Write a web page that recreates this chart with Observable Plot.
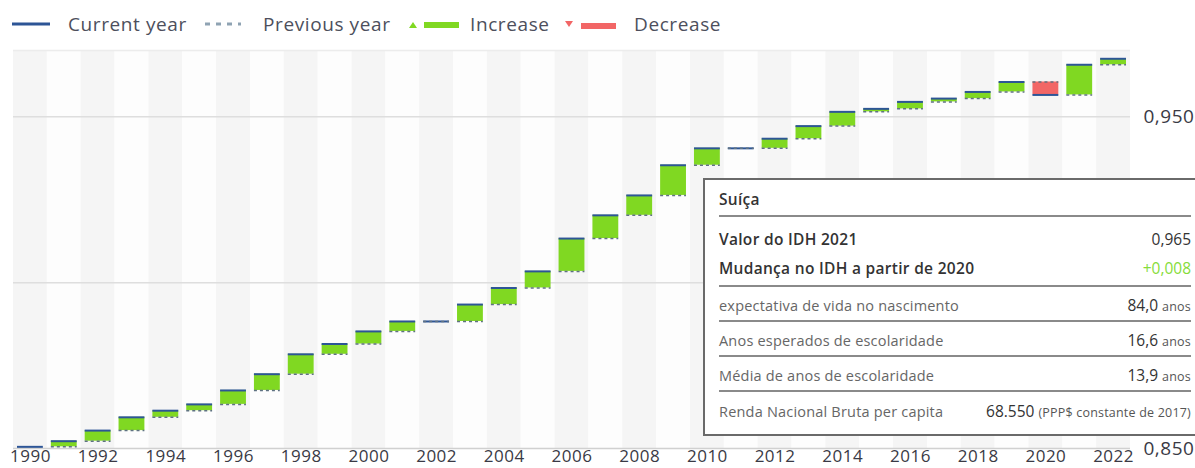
<!DOCTYPE html>
<html>
<head>
<meta charset="utf-8">
<script src="https://cdn.jsdelivr.net/npm/d3@7"></script>
<script src="https://cdn.jsdelivr.net/npm/@observablehq/plot@0.6"></script>
<style>
  html, body { margin: 0; padding: 0; background: #fff; overflow: hidden; width: 1195px; height: 468px; }
  body { font-family: "Open Sans", Lato, sans-serif; position: relative; }
  #legend { position: absolute; left: 0; top: 0; width: 1195px; height: 40px; }
  .lg { position: absolute; top: 11px; font-size: 19px; letter-spacing: 0.6px; color: #4d4f5c; line-height: 26px; white-space: nowrap; }
  #chart { position: absolute; left: 0; top: 40px; }
  #chart svg text { letter-spacing: 0.5px; }
  #tip { position: absolute; left: 703px; top: 178px; width: 500px; height: 254px; border: 2px solid #6a6a6a; background: #fff; box-sizing: content-box; }
  .row { position: absolute; left: 14px; width: 472px; display: flex; justify-content: space-between; align-items: center; height: 24px; white-space: nowrap; }
  .b { font-weight: 600; font-size: 15.5px; letter-spacing: 0.3px; color: #333; }
  .n { font-size: 14.5px; letter-spacing: 0.2px; color: #666; }
  .v { font-size: 15.5px; color: #333; }
  .s { font-size: 12.5px; color: #555; letter-spacing: 0.2px; }
  .hr { position: absolute; left: 14px; width: 472px; height: 0; border-top: 2px solid #8a8a8a; }
</style>
</head>
<body>
<div id="legend">
  <svg style="position:absolute;left:0;top:0" width="700" height="40">
    <line x1="12" x2="50" y1="24" y2="24" stroke="#2d5596" stroke-width="3"/>
    <line x1="205" x2="241" y1="24" y2="24" stroke="#8fa3b3" stroke-width="3" stroke-dasharray="5,6"/>
    <path d="M409,28 L413,22 L417,28 Z" fill="#80d822"/>
    <line x1="424" x2="459" y1="25" y2="25" stroke="#80d822" stroke-width="6"/>
    <path d="M565,21 L569,27 L573,21 Z" fill="#f26666"/>
    <line x1="581" x2="616" y1="26" y2="26" stroke="#f26666" stroke-width="6"/>
  </svg>
  <span class="lg" style="left:68px">Current year</span>
  <span class="lg" style="left:263px">Previous year</span>
  <span class="lg" style="left:470px">Increase</span>
  <span class="lg" style="left:634px">Decrease</span>
</div>
<div id="chart"></div>
<div id="tip">
  <div class="row b" style="top:7px">Suíça</div>
  <div class="hr" style="top:35px"></div>
  <div class="row" style="top:47px"><span class="b">Valor do IDH 2021</span><span class="v">0,965</span></div>
  <div class="row" style="top:76px"><span class="b">Mudança no IDH a partir de 2020</span><span class="v" style="color:#86dc3a">+0,008</span></div>
  <div class="hr" style="top:105px"></div>
  <div class="row" style="top:113px"><span class="n">expectativa de vida no nascimento</span><span class="v">84,0 <span class="s">anos</span></span></div>
  <div class="hr" style="top:140px"></div>
  <div class="row" style="top:148px"><span class="n">Anos esperados de escolaridade</span><span class="v">16,6 <span class="s">anos</span></span></div>
  <div class="hr" style="top:175px"></div>
  <div class="row" style="top:183px"><span class="n">Média de anos de escolaridade</span><span class="v">13,9 <span class="s">anos</span></span></div>
  <div class="hr" style="top:210px"></div>
  <div class="row" style="top:219px"><span class="n">Renda Nacional Bruta per capita</span><span class="v">68.550 <span class="s">(PPP$ constante de 2017)</span></span></div>
</div>
<script>
const years = [1990,1991,1992,1993,1994,1995,1996,1997,1998,1999,2000,2001,2002,2003,2004,2005,2006,2007,2008,2009,2010,2011,2012,2013,2014,2015,2016,2017,2018,2019,2020,2021,2022];
const hdi = [0.8505,0.8522,0.8554,0.8594,0.8614,0.8633,0.8675,0.8724,0.8784,0.8815,0.8853,0.8883,0.8883,0.8934,0.8984,0.9034,0.9133,0.9203,0.9263,0.9354,0.9405,0.9405,0.9434,0.9472,0.9515,0.9524,0.9545,0.9555,0.9575,0.9605,0.9566,0.9657,0.9675];
const gridValues = [0.90, 0.95];
const yTickLabels = [0.85, 0.95];
const xTickYears = years.filter(y => y % 2 === 0);

const GREEN = "#80d822", RED = "#f26666", BLUE = "#2d5596", DASH = "#5f7282";
const yMin = 0.85, yMax = 0.97;

const rows = years.map((year, i) => ({year, cur: hdi[i], prev: i > 0 ? hdi[i - 1] : null, idx: i}));
const changes = rows.filter(d => d.prev !== null && d.cur !== d.prev);
const withPrev = rows.filter(d => d.prev !== null);

const chart = Plot.plot({
  width: 1195,
  height: 428,
  marginTop: 10,
  marginBottom: 20,
  marginLeft: 13,
  marginRight: 65,
  style: {fontFamily: "'Open Sans', Lato, sans-serif", fontSize: "19px", color: "#3a3a45", background: "transparent", overflow: "visible"},
  x: {type: "band", domain: years, padding: 0, round: false},
  y: {domain: [yMin, yMax]},
  color: {type: "identity"},
  marks: [
    Plot.barY(rows, {x: "year", y1: () => yMin, y2: () => yMax, fill: d => d.idx % 2 ? "#fdfdfd" : "#f5f5f5"}),
    Plot.ruleY([yMax], {stroke: "#ececec", strokeWidth: 1.5}),
    Plot.ruleY(gridValues, {stroke: "#dedede", strokeWidth: 1.5}),
    Plot.ruleY([yMin], {stroke: "#d0d0d0", strokeWidth: 1.5}),
    Plot.barY(changes, {x: "year", y1: "prev", y2: "cur", fill: d => d.cur > d.prev ? GREEN : RED, insetLeft: 4, insetRight: 4}),
    Plot.tickY(rows, {x: "year", y: "cur", stroke: BLUE, strokeWidth: 2, insetLeft: 4, insetRight: 4}),
    Plot.tickY(withPrev, {x: "year", y: "prev", stroke: DASH, strokeWidth: 1.5, strokeDasharray: "3,3", insetLeft: 4, insetRight: 4}),
    Plot.axisY({anchor: "right", ticks: yTickLabels, tickSize: 0, tickPadding: 13, tickFormat: d => d.toFixed(3).replace(".", ","), label: null}),
    Plot.axisX({ticks: xTickYears, tickSize: 0, tickPadding: 1, fontSize: 17, tickFormat: d => String(d), label: null})
  ]
});
document.getElementById("chart").appendChild(chart);
</script>
</body>
</html>
